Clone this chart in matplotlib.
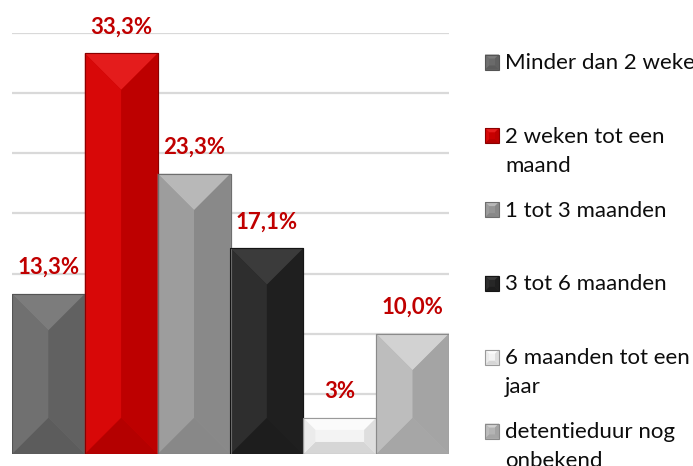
import matplotlib
matplotlib.use("Agg")
import matplotlib.pyplot as plt
from matplotlib.patches import Polygon, Rectangle

categories = ["Minder dan 2 weken", "2 weken tot een\nmaand", "1 tot 3 maanden",
              "3 tot 6 maanden", "6 maanden tot een\njaar", "detentieduur nog\nonbekend"]
values = [13.3, 33.3, 23.3, 17.1, 3.0, 10.0]
labels = ["13,3%", "33,3%", "23,3%", "17,1%", "3%", "10,0%"]
gridvals = [5, 10, 15, 20, 25, 30, 35]

# style: face, top, bottom, left, right, edge
styles = [
    ("#6a6a6a", "#7c7c7c", "#5c5c5c", "#707070", "#616161", "#545454"),
    ("#c80000", "#e41c1c", "#b40000", "#d80808", "#bd0000", "#8a0000"),
    ("#959595", "#b8b8b8", "#888888", "#9d9d9d", "#898989", "#6e6e6e"),
    ("#272727", "#3b3b3b", "#1d1d1d", "#2e2e2e", "#1f1f1f", "#151515"),
    ("#f3f3f3", "#fbfbfb", "#d6d6d6", "#ebebeb", "#dedede", "#9a9a9a"),
    ("#b4b4b4", "#d2d2d2", "#a6a6a6", "#bdbdbd", "#a4a4a4", "#8a8a8a"),
]

W, H = 693, 466
fig = plt.figure(figsize=(W / 100, H / 100), dpi=100)
plt.rcParams['font.family'] = ['Lato', 'DejaVu Sans']

ax_l, ax_r, ax_t, ax_b = 12, 449, 33, 454
ax = fig.add_axes([ax_l / W, (H - ax_b) / H, (ax_r - ax_l) / W, (ax_b - ax_t) / H])
ax.set_xlim(-0.5, len(values) - 0.5)
ax.set_ylim(0, 35)
for s in ax.spines.values():
    s.set_visible(False)
ax.set_xticks([])
ax.set_yticks([])
for g in gridvals:
    ax.axhline(g, color="#d9d9d9", lw=1.6, zorder=0)

x = list(range(len(values)))
bars = ax.bar(x, values, width=1.0, color=[s[0] for s in styles],
              edgecolor=[s[5] for s in styles], linewidth=0.8, zorder=2)


def bevel(x0, y0, x1, y1, d, dx_unit, dy_unit, st, transform, target, z):
    dx = d / dx_unit
    dy = d / dy_unit
    target.append(Rectangle((x0, y0), x1 - x0, y1 - y0, facecolor=st[0],
                            edgecolor="none", transform=transform, zorder=z))
    polys = [
        ([(x0, y1), (x1, y1), (x1 - dx, y1 - dy), (x0 + dx, y1 - dy)], st[1]),
        ([(x0, y0), (x1, y0), (x1 - dx, y0 + dy), (x0 + dx, y0 + dy)], st[2]),
        ([(x0, y0), (x0, y1), (x0 + dx, y1 - dy), (x0 + dx, y0 + dy)], st[3]),
        ([(x1, y0), (x1, y1), (x1 - dx, y1 - dy), (x1 - dx, y0 + dy)], st[4]),
    ]
    for pts, c in polys:
        target.append(Polygon(pts, closed=True, facecolor=c, edgecolor="none",
                              transform=transform, zorder=z))
    target.append(Rectangle((x0, y0), x1 - x0, y1 - y0, facecolor="none",
                            edgecolor=st[5], lw=0.8, transform=transform, zorder=z + 1))


px_x = (ax_r - ax_l) / (len(values))
px_y = (ax_b - ax_t) / 35.0
for b, st in zip(bars, styles):
    x0 = b.get_x(); x1 = x0 + b.get_width()
    y1 = b.get_height()
    wpx = b.get_width() * px_x; hpx = y1 * px_y
    d = min(wpx / 2, hpx / 3)
    items = []
    bevel(x0, 0, x1, y1, d, px_x, px_y, st, ax.transData, items, 3)
    for it in items:
        ax.add_patch(it)

for xi, v, lab in zip(x, values, labels):
    ax.annotate(lab, (xi, v), xytext=(0, 19), textcoords="offset points",
                ha="center", va="center", fontsize=16, fontweight="bold",
                color="#c00000", zorder=5)

# legend
leg_base0, leg_step, line_h = 69, 73.8, 29
for i, (cat, st) in enumerate(zip(categories, styles)):
    yb = leg_base0 + i * leg_step
    items = []
    bevel(485 / W, (H - yb - 0.5) / H, 499 / W, (H - yb + 14.5) / H, 4, W, H, st,
          fig.transFigure, items, 3)
    for it in items:
        fig.patches.append(it)
    for j, line in enumerate(cat.split("\n")):
        fig.text(505 / W, (H - (yb + j * line_h)) / H, line, ha="left",
                 va="baseline", fontsize=16, color="#0d0d0d")

fig.savefig("out.png", dpi=100)
